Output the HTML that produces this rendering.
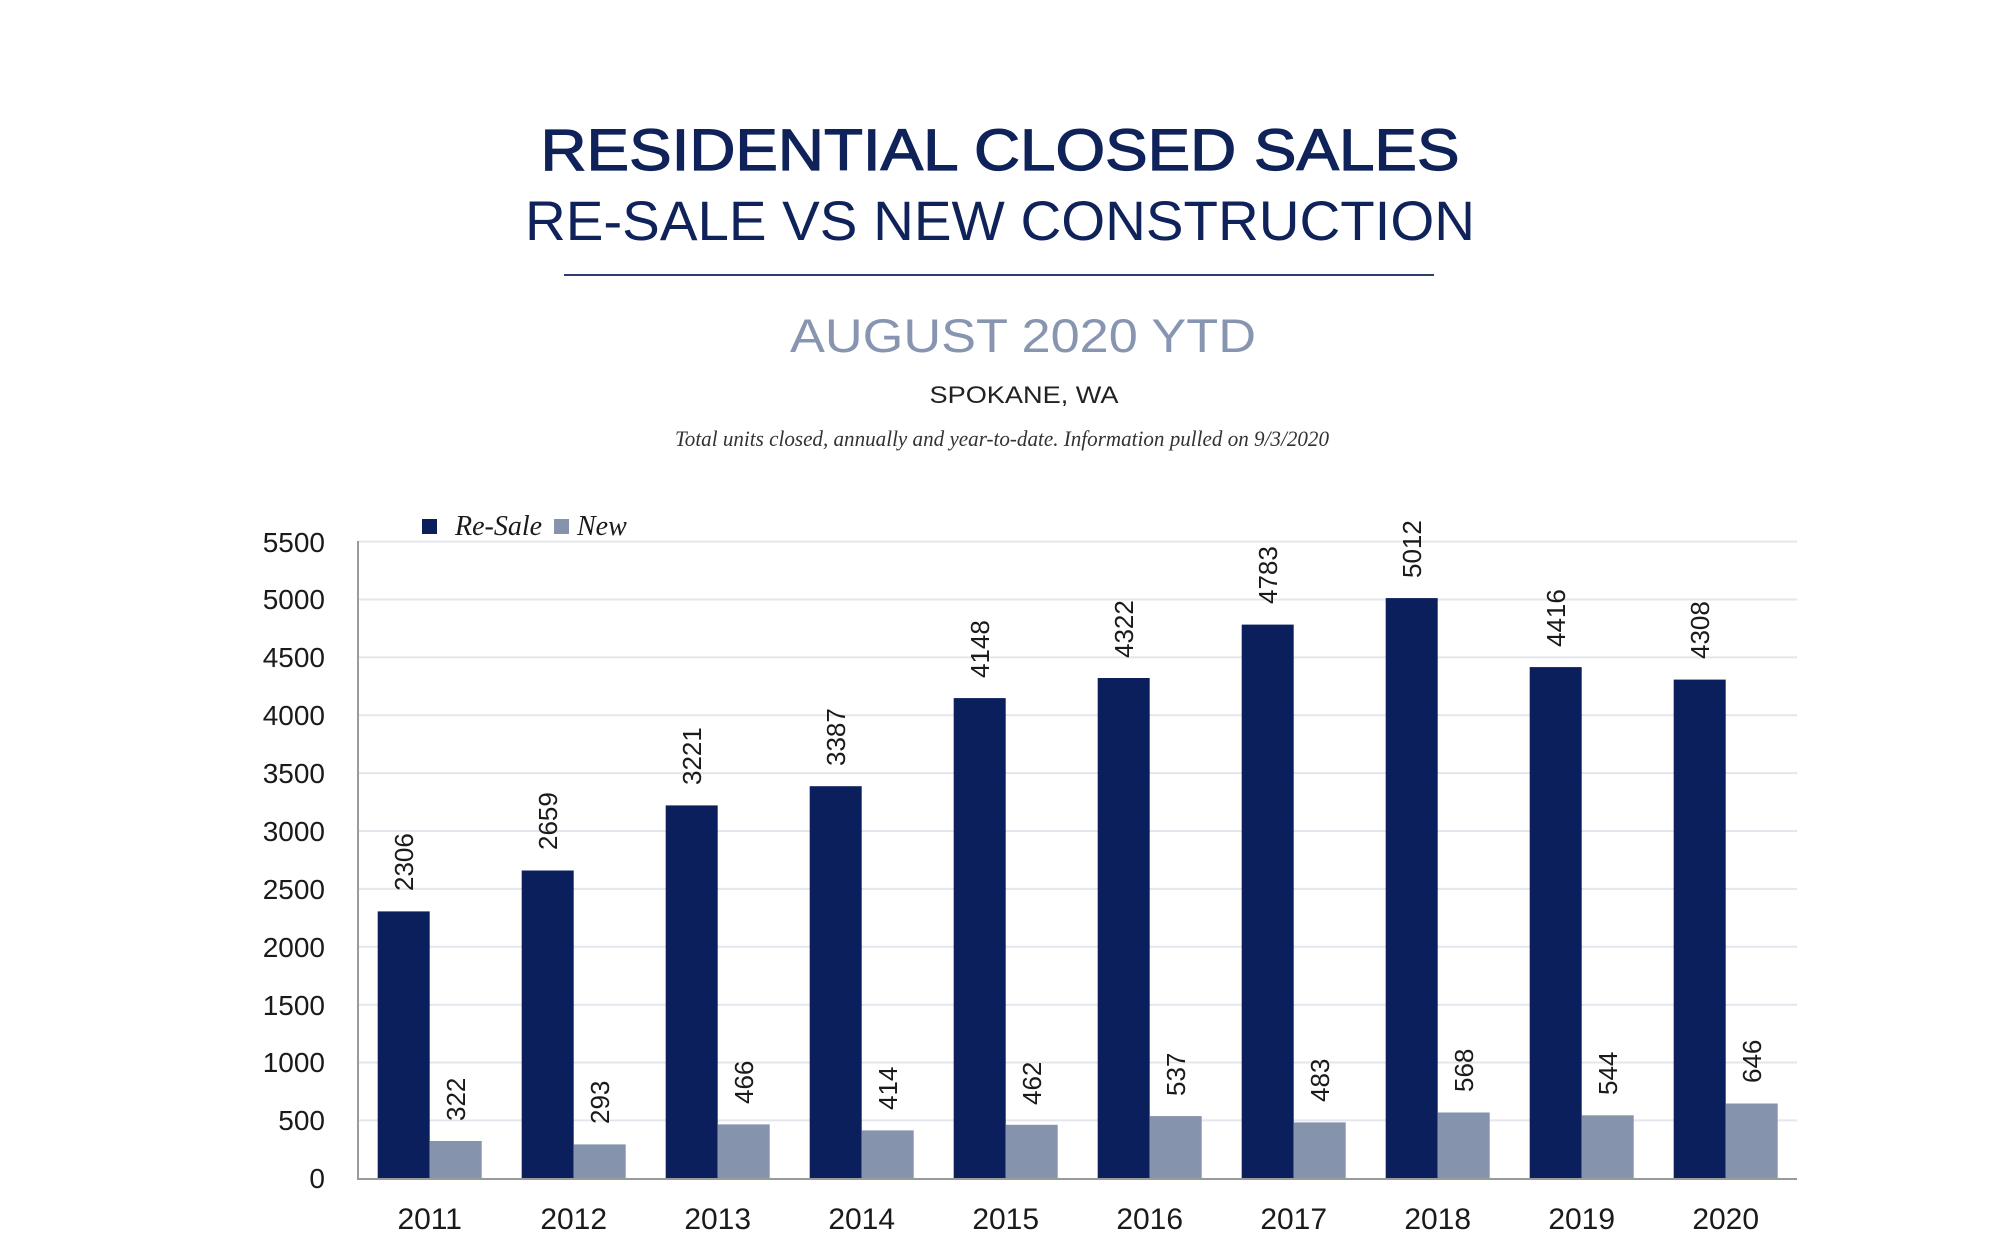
<!DOCTYPE html>
<html><head><meta charset="utf-8"><style>html,body{margin:0;padding:0;background:#fff}svg{display:block}</style></head>
<body>
<svg width="2000" height="1250" viewBox="0 0 2000 1250" xmlns="http://www.w3.org/2000/svg">
<rect width="2000" height="1250" fill="#fff"/>
<g font-family="Liberation Sans, sans-serif" text-anchor="middle">
<text x="1000" y="170" font-size="58" fill="#0f2259" stroke="#0f2259" stroke-width="1.2" textLength="919" lengthAdjust="spacingAndGlyphs">RESIDENTIAL CLOSED SALES</text>
<text x="1000" y="240" font-size="56" fill="#0f2259" textLength="950" lengthAdjust="spacingAndGlyphs">RE-SALE VS NEW CONSTRUCTION</text>
<rect x="564" y="274" width="870" height="2" fill="#2a3d6e"/>
<text x="1023" y="352" font-size="47" fill="#8795b0" textLength="466" lengthAdjust="spacingAndGlyphs">AUGUST 2020 YTD</text>
<text x="1024" y="403" font-size="24" fill="#222" textLength="189" lengthAdjust="spacingAndGlyphs">SPOKANE, WA</text>
</g>
<text x="1002" y="446" font-family="Liberation Serif, serif" font-style="italic" font-size="22" fill="#333" text-anchor="middle" textLength="654" lengthAdjust="spacingAndGlyphs">Total units closed, annually and year-to-date.  Information pulled on 9/3/2020</text>
<g stroke="#e4e6ee" stroke-width="2">
<line x1="358" x2="1797" y1="1120.4" y2="1120.4"/><line x1="358" x2="1797" y1="1062.5" y2="1062.5"/><line x1="358" x2="1797" y1="1004.7" y2="1004.7"/><line x1="358" x2="1797" y1="946.8" y2="946.8"/><line x1="358" x2="1797" y1="888.9" y2="888.9"/><line x1="358" x2="1797" y1="831" y2="831"/><line x1="358" x2="1797" y1="773.1" y2="773.1"/><line x1="358" x2="1797" y1="715.3" y2="715.3"/><line x1="358" x2="1797" y1="657.4" y2="657.4"/><line x1="358" x2="1797" y1="599.5" y2="599.5"/><line x1="358" x2="1797" y1="541.6" y2="541.6"/>
</g>
<g font-family="Liberation Sans, sans-serif" font-size="28" fill="#1a1a1a" text-anchor="end">
<text x="325" y="1188">0</text><text x="325" y="1130">500</text><text x="325" y="1072">1000</text><text x="325" y="1015">1500</text><text x="325" y="957">2000</text><text x="325" y="899">2500</text><text x="325" y="841">3000</text><text x="325" y="783">3500</text><text x="325" y="725">4000</text><text x="325" y="667">4500</text><text x="325" y="609">5000</text><text x="325" y="552">5500</text>
</g>
<g fill="#0b1f5c">
<rect x="377.7" y="911.4" width="52" height="266.9"/><rect x="521.7" y="870.5" width="52" height="307.8"/><rect x="665.7" y="805.4" width="52" height="372.9"/><rect x="809.7" y="786.2" width="52" height="392.1"/><rect x="953.7" y="698.1" width="52" height="480.2"/><rect x="1097.7" y="678" width="52" height="500.3"/><rect x="1241.7" y="624.6" width="52" height="553.7"/><rect x="1385.7" y="598.1" width="52" height="580.2"/><rect x="1529.7" y="667.1" width="52" height="511.2"/><rect x="1673.7" y="679.6" width="52" height="498.7"/>
</g>
<g fill="#8593ad">
<rect x="429.7" y="1141" width="52" height="37.3"/><rect x="573.7" y="1144.4" width="52" height="33.9"/><rect x="717.7" y="1124.4" width="52" height="53.9"/><rect x="861.7" y="1130.4" width="52" height="47.9"/><rect x="1005.7" y="1124.8" width="52" height="53.5"/><rect x="1149.7" y="1116.1" width="52" height="62.2"/><rect x="1293.7" y="1122.4" width="52" height="55.9"/><rect x="1437.7" y="1112.5" width="52" height="65.8"/><rect x="1581.7" y="1115.3" width="52" height="63"/><rect x="1725.7" y="1103.5" width="52" height="74.8"/>
</g>
<line x1="358" y1="541" x2="358" y2="1179" stroke="#9a9a9a" stroke-width="2"/>
<line x1="357" y1="1179" x2="1797" y2="1179" stroke="#9a9a9a" stroke-width="2"/>
<g font-family="Liberation Sans, sans-serif" font-size="26" fill="#1a1a1a">
<text transform="translate(413,891) rotate(-90)">2306</text>
<text transform="translate(557,850) rotate(-90)">2659</text>
<text transform="translate(701,785) rotate(-90)">3221</text>
<text transform="translate(845,766) rotate(-90)">3387</text>
<text transform="translate(989,678) rotate(-90)">4148</text>
<text transform="translate(1133,658) rotate(-90)">4322</text>
<text transform="translate(1277,604) rotate(-90)">4783</text>
<text transform="translate(1421,578) rotate(-90)">5012</text>
<text transform="translate(1565,647) rotate(-90)">4416</text>
<text transform="translate(1709,659) rotate(-90)">4308</text>
<text transform="translate(465,1121) rotate(-90)">322</text>
<text transform="translate(609,1124) rotate(-90)">293</text>
<text transform="translate(753,1104) rotate(-90)">466</text>
<text transform="translate(897,1110) rotate(-90)">414</text>
<text transform="translate(1041,1105) rotate(-90)">462</text>
<text transform="translate(1185,1096) rotate(-90)">537</text>
<text transform="translate(1329,1102) rotate(-90)">483</text>
<text transform="translate(1473,1092) rotate(-90)">568</text>
<text transform="translate(1617,1095) rotate(-90)">544</text>
<text transform="translate(1761,1083) rotate(-90)">646</text>
</g>
<g font-family="Liberation Sans, sans-serif" font-size="30" fill="#1a1a1a" text-anchor="middle">
<text x="429.7" y="1229">2011</text><text x="573.7" y="1229">2012</text><text x="717.7" y="1229">2013</text><text x="861.7" y="1229">2014</text><text x="1005.7" y="1229">2015</text><text x="1149.7" y="1229">2016</text><text x="1293.7" y="1229">2017</text><text x="1437.7" y="1229">2018</text><text x="1581.7" y="1229">2019</text><text x="1725.7" y="1229">2020</text>
</g>
<rect x="422" y="519" width="15" height="15" fill="#0b1f5c"/>
<text x="455" y="535" font-family="Liberation Serif, serif" font-style="italic" font-size="28" fill="#1a1a1a">Re-Sale</text>
<rect x="554" y="519" width="15" height="15" fill="#8593ad"/>
<text x="577" y="535" font-family="Liberation Serif, serif" font-style="italic" font-size="28" fill="#1a1a1a">New</text>
</svg>
</body></html>
